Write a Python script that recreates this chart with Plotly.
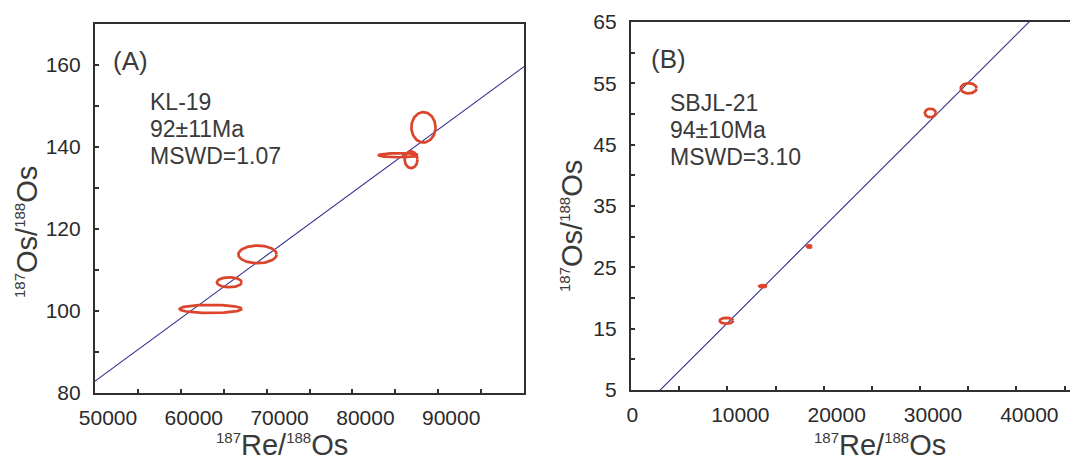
import numpy as np
import plotly.graph_objects as go

W, H = 1070, 463
LAMBDA_RE187 = 1.666e-11  # 187Re decay constant (per year)

# Panel A: KL-19 (187Re/188Os, 187Os/188Os, 2-sigma half-widths)
a_re = [63480, 65650, 68940, 85360, 86840, 88280]
a_os = [100.5, 107.0, 113.8, 138.0, 136.9, 144.8]
a_re_err = [3610, 1445, 2230, 2270, 745, 1405]
a_os_err = [1.0, 1.2, 2.15, 0.5, 2.05, 3.7]
a_age_ma = 92
a_initial = 6.2
a_label = ["KL-19", "92±11Ma", "MSWD=1.07"]

# Panel B: SBJL-21
b_re = [9900, 13700, 18510, 31070, 35050]
b_os = [16.29, 21.94, 28.40, 50.17, 54.19]
b_re_err = [690, 400, 250, 570, 825]
b_os_err = [0.48, 0.18, 0.2, 0.7, 0.83]
b_age_ma = 94
b_initial = 0.25
b_label = ["SBJL-21", "94±10Ma", "MSWD=3.10"]

# axis ticks
a_xticks = [50000, 60000, 70000, 80000, 90000]
a_yticks = [80, 100, 120, 140, 160]
b_xticks = [0, 10000, 20000, 30000, 40000]
b_yticks = [5, 15, 25, 35, 45, 55, 65]

ELLIPSE_COLOR = "#db452b"
LINE_COLOR = "#2e2e8c"
AXIS_COLOR = "#303030"
TEXT_COLOR = "#2a2a2a"
FONT = "Liberation Sans"
NBSP = "\u00a0"


def ellipse(cx, cy, rx, ry, n=90):
    t = np.linspace(0, 2 * np.pi, n)
    return cx + rx * np.cos(t), cy + ry * np.sin(t)


fig = go.Figure()


def add_panel(xs, ys, xe, ye, age_ma, initial, xaxis, yaxis, x_span):
    slope = np.exp(LAMBDA_RE187 * age_ma * 1e6) - 1
    lx = np.array(x_span, dtype=float)
    fig.add_trace(go.Scatter(x=lx, y=initial + slope * lx, mode="lines",
                             line=dict(color=LINE_COLOR, width=1.1),
                             xaxis=xaxis, yaxis=yaxis, hoverinfo="skip"))
    for cx, cy, rx, ry in zip(xs, ys, xe, ye):
        ex, ey = ellipse(cx, cy, rx, ry)
        fig.add_trace(go.Scatter(x=ex, y=ey, mode="lines",
                                 line=dict(color=ELLIPSE_COLOR, width=2.7),
                                 xaxis=xaxis, yaxis=yaxis, hoverinfo="skip"))


add_panel(a_re, a_os, a_re_err, a_os_err, a_age_ma, a_initial, "x", "y", [0, 120000])
add_panel(b_re, b_os, b_re_err, b_os_err, b_age_ma, b_initial, "x2", "y2", [0, 50000])

tickfont = dict(family=FONT, size=21, color=TEXT_COLOR)


def axis_style(**kw):
    d = dict(showline=True, mirror=True, linewidth=2.2, linecolor=AXIS_COLOR,
             showgrid=False, zeroline=False, ticks="inside", ticklen=4,
             tickwidth=1.6, tickcolor=AXIS_COLOR, tickfont=tickfont,
             tickmode="array", fixedrange=True, automargin=False)
    d.update(kw)
    return d


def minor_ticks(step):
    return dict(dtick=step, tick0=0, ticks="inside", ticklen=4,
                tickwidth=1.6, tickcolor=AXIS_COLOR)


def x_label(v):
    # the short "0" label sits directly under its tick, the long ones are shifted
    return str(v) + NBSP * 4 if v == 0 else str(v)


def px_x(p):
    return p / W


def px_y(p):
    return 1 - p / H


fig.update_layout(
    width=W, height=H,
    margin=dict(l=0, r=0, t=0, b=0, pad=0, autoexpand=False),
    paper_bgcolor="white", plot_bgcolor="white", showlegend=False,
    xaxis=axis_style(domain=[px_x(95), px_x(524)], range=[50000, 100000],
                     anchor="y", tickvals=a_xticks,
                     ticktext=[x_label(v) for v in a_xticks],
                     minor=minor_ticks(5000),
                     ticklabelshift=13, ticklabelstandoff=5),
    yaxis=axis_style(domain=[px_y(393), px_y(24)], range=[80, 170],
                     anchor="x", tickvals=a_yticks,
                     ticktext=[str(v) for v in a_yticks],
                     minor=minor_ticks(10), ticklabelstandoff=8),
    # right panel runs off the right edge of the page
    xaxis2=axis_style(domain=[px_x(631), 1.0], range=[0, 45570],
                      anchor="y2", tickvals=b_xticks,
                      ticktext=[x_label(v) for v in b_xticks],
                      minor=minor_ticks(5000),
                      ticklabelshift=13, ticklabelstandoff=5),
    yaxis2=axis_style(domain=[px_y(390), px_y(22)], range=[5, 65],
                      anchor="x2", tickvals=b_yticks, mirror=False,
                      ticktext=[str(v) for v in b_yticks],
                      minor=minor_ticks(5), ticklabelstandoff=8),
)

X_TITLE = ("<sup><span style='font-size:15px'>187</span></sup>Re/"
           "<sup><span style='font-size:15px'>188</span></sup>Os")
Y_TITLE = ("<sup><span style='font-size:15px'>187</span></sup>Os/"
           "<sup><span style='font-size:15px'>188</span></sup>Os")
title_font = dict(family=FONT, size=29, color="#3a3a3a")
note_font = dict(family=FONT, size=23, color="#3a3a3a")
letter_font = dict(family=FONT, size=26, color="#3a3a3a")

annotations = [
    # axis titles
    dict(text=X_TITLE, x=px_x(282), y=0, yanchor="bottom", font=title_font),
    dict(text=X_TITLE, x=px_x(880), y=0, yanchor="bottom", font=title_font),
    dict(text=Y_TITLE, x=px_x(27), y=px_y(232), font=title_font, textangle=-90),
    dict(text=Y_TITLE, x=px_x(572), y=px_y(226), font=title_font, textangle=-90),
    # panel letters
    dict(text="(A)", x=px_x(111), y=px_y(61), xanchor="left", font=letter_font),
    dict(text="(B)", x=px_x(649), y=px_y(59), xanchor="left", font=letter_font),
]
# sample notes, one line each
for i, line in enumerate(a_label):
    annotations.append(dict(text=line, x=px_x(148), y=px_y(102 + 27 * i),
                            xanchor="left", font=note_font))
for i, line in enumerate(b_label):
    annotations.append(dict(text=line, x=px_x(668), y=px_y(103 + 27 * i),
                            xanchor="left", font=note_font))

for a in annotations:
    a.setdefault("xanchor", "center")
    a.setdefault("yanchor", "middle")
    a.update(xref="paper", yref="paper", showarrow=False)
fig.update_layout(annotations=annotations)

fig.write_html("out.html")
